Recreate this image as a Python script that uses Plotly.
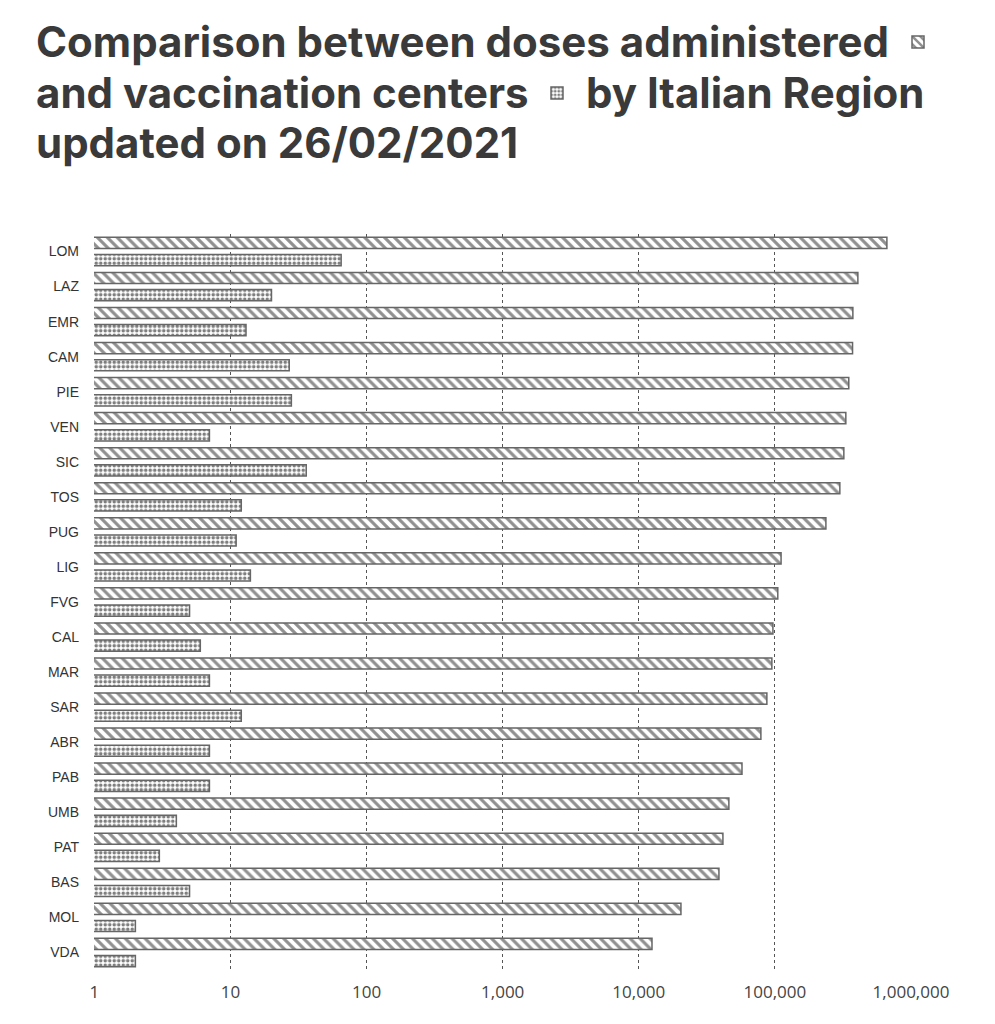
import plotly.graph_objects as go

regions = ["LOM", "LAZ", "EMR", "CAM", "PIE", "VEN", "SIC", "TOS", "PUG", "LIG", "FVG",
           "CAL", "MAR", "SAR", "ABR", "PAB", "UMB", "PAT", "BAS", "MOL", "VDA"]
doses = [665000, 407000, 374000, 372000, 349000, 332000, 321000, 300000, 237000, 111000,
         105000, 96700, 95000, 87300, 78900, 57300, 45900, 41500, 38800, 20400, 12500]
centers = [65, 20, 13, 27, 28, 7, 36, 12, 11, 14, 5, 6, 7, 12, 7, 7, 4, 3, 5, 2, 2]

x_ticks = [1, 10, 100, 1000, 10000, 100000, 1000000]
x_labels = ["1", "10", "100", "1,000", "10,000", "100,000", "1,000,000"]

title_font = dict(family="Inter, Roboto, sans-serif", size=42, color="#3a3a3a", weight=700)

# the page puts the figure 8px in from the top left corner
OFF = 8
W, H = 995 - 2 * OFF, 1024 - 2 * OFF
# plot area in screen pixels
L, R, T, B = 94, 911, 234, 970


def px(x):
    return (x - L) / (R - L)


def py(y):
    return (B - y) / (B - T)


fig = go.Figure()
fig.add_trace(go.Bar(
    y=regions, x=doses, orientation="h", name="",
    marker=dict(color="white", line=dict(color="#666", width=1.5),
                pattern=dict(shape="\\", size=7, solidity=0.45, fgcolor="#222", bgcolor="white")),
    legend="legend",
))
fig.add_trace(go.Bar(
    y=regions, x=centers, orientation="h", name="",
    marker=dict(color="white", line=dict(color="#666", width=1.5),
                pattern=dict(shape=".", size=4.5, solidity=0.5, fgcolor="#000", bgcolor="white")),
    legend="legend2",
))

title_lines = [
    ("Comparison between doses administered", 35, 42),
    ("and vaccination centers", 35, 92),
    ("by Italian Region", 585, 92),
    ("updated on 26/02/2021", 35, 142),
]
for txt, x0, y0 in title_lines:
    fig.add_annotation(text=txt, x=px(x0), y=py(y0), xref="paper", yref="paper",
                       xanchor="left", yanchor="middle", showarrow=False,
                       font=title_font, borderpad=0)

fig.update_layout(
    width=W, height=H,
    paper_bgcolor="white", plot_bgcolor="white",
    margin=dict(l=L - OFF, r=W - (R - OFF), t=T - OFF, b=H - (B - OFF), autoexpand=False),
    barmode="group", bargap=0.02, bargroupgap=0.35,
    legend=dict(x=890 / W, y=1 - 34 / H, xref="container", yref="container",
                xanchor="left", yanchor="middle", bgcolor="rgba(0,0,0,0)"),
    legend2=dict(x=529 / W, y=1 - 85 / H, xref="container", yref="container",
                 xanchor="left", yanchor="middle", bgcolor="rgba(0,0,0,0)"),
    showlegend=True,
)
fig.update_xaxes(
    type="log", range=[-0.003, 6],
    tickvals=x_ticks, ticktext=x_labels,
    showgrid=True, gridcolor="#555", griddash="dot", gridwidth=1,
    showline=False, zeroline=False, ticks="",
    tickfont=dict(family="Open Sans, Lato, sans-serif", size=17, color="#444"),
    ticklabelstandoff=10,
)
fig.update_yaxes(
    autorange="reversed", showgrid=False, showline=False, ticks="",
    tickfont=dict(family="Liberation Sans, Arial, sans-serif", size=14, color="#333"),
    ticklabelstandoff=14,
)

fig.write_html("out.html")
